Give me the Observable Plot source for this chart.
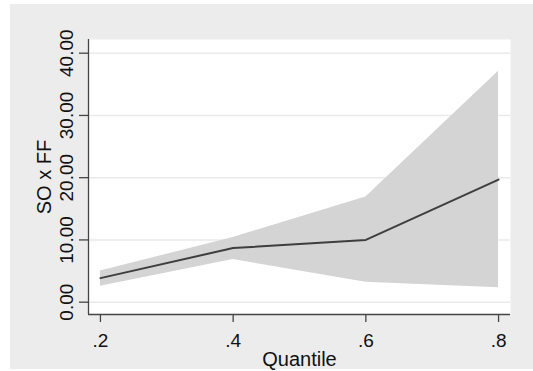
<!DOCTYPE html>
<html>
<head>
<meta charset="utf-8">
<script src="https://cdn.jsdelivr.net/npm/d3@7"></script>
<script src="https://cdn.jsdelivr.net/npm/@observablehq/plot@0.6"></script>
<style>
  html, body { margin: 0; padding: 0; background: #ffffff; }
  #wrap { position: relative; width: 533px; height: 371px; overflow: hidden; }
  #bg { position: absolute; left: 10px; top: 4px; width: 523px; height: 365px; background: #ececec; }
  #chart { position: absolute; left: 0; top: 0; }
</style>
</head>
<body>
<div id="wrap"><div id="bg"></div><div id="chart"></div></div>
<script>
const quantiles = [0.2, 0.4, 0.6, 0.8];
const estimate  = [3.86, 8.7, 10.0, 19.7];
const lower     = [2.57, 6.86, 3.2, 2.3];
const upper     = [5.0, 10.4, 16.9, 37.1];
const yTicks = [0, 10, 20, 30, 40];
const xTicks = [0.2, 0.4, 0.6, 0.8];
const xTickLabels = [".2", ".4", ".6", ".8"];
const yTitle = "SO x FF";
const xTitle = "Quantile";

const data = quantiles.map((q, i) => ({q, est: estimate[i], lo: lower[i], hi: upper[i]}));
const xDomain = [0.182, 0.818];
const yDomain = [-1.98, 42.2];
const font = "'Liberation Sans', Arial, Helvetica, sans-serif";

const chart = Plot.plot({
  width: 533,
  height: 371,
  marginLeft: 88,
  marginRight: 23,
  marginTop: 39,
  marginBottom: 57,
  style: {background: "transparent", fontFamily: font, color: "#111", overflow: "visible"},
  x: {domain: xDomain},
  y: {domain: yDomain},
  marks: [
    Plot.frame({fill: "#ffffff", stroke: null}),
    Plot.gridY(yTicks, {stroke: "#eaeaea", strokeOpacity: 1, strokeWidth: 1.5}),
    Plot.areaY(data, {x: "q", y1: "lo", y2: "hi", fill: "#d4d4d4", fillOpacity: 1}),
    Plot.lineY(data, {x: "q", y: "est", stroke: "#3e3e3e", strokeWidth: 2}),
    Plot.ruleY([yDomain[0]], {stroke: "#444", strokeWidth: 1.3}),
    Plot.ruleX([xDomain[0]], {stroke: "#444", strokeWidth: 1.3}),
    Plot.axisY({ticks: yTicks, tickSize: 9, tickFormat: () => "", stroke: "#444", strokeWidth: 1.3, label: null}),
    Plot.text(yTicks, {
      y: d => d, text: d => d3.format(".2f")(d), frameAnchor: "left", dx: -16,
      rotate: -90, textAnchor: "middle", lineAnchor: "bottom", fontSize: 19, fill: "#111"
    }),
    Plot.axisX({ticks: xTicks, tickSize: 8, tickPadding: 11, fontSize: 19,
      tickFormat: d => xTickLabels[xTicks.indexOf(d)], stroke: "#444", strokeWidth: 1.3, label: null}),
    Plot.text([yTitle], {frameAnchor: "left", dx: -38, rotate: -90, textAnchor: "middle",
      lineAnchor: "bottom", fontSize: 20, fill: "#111"}),
    Plot.text([xTitle], {frameAnchor: "bottom", dy: 51, textAnchor: "middle",
      lineAnchor: "bottom", fontSize: 20, fill: "#111"})
  ]
});
document.getElementById("chart").appendChild(chart);
</script>
</body>
</html>
